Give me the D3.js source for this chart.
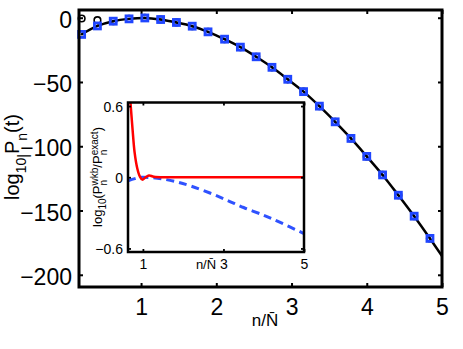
<!DOCTYPE html>
<html lang="en">
<head>
<meta charset="UTF-8">
<title>log10 Pn</title>
<script src="https://d3js.org/d3.v7.min.js"></script>
<style>
  body { margin: 0; background: #fff; }
  svg { display: block; font-family: "Liberation Sans", Arial, Helvetica, sans-serif; }
</style>
</head>
<body>
<svg width="463" height="349"></svg>
<script>
// main panel markers: n/N̄ for n = 4, 8, 12, ...
const nRatio = [0.21, 0.42, 0.63, 0.84, 1.05, 1.26, 1.47, 1.68, 1.89, 2.11, 2.32, 2.53,
                2.74, 2.95, 3.16, 3.37, 3.58, 3.79, 4.00, 4.21, 4.42, 4.63, 4.84];
// WKB values (blue squares)
const logWkb = [-13.0, -6.4, -2.7, -0.9, -0.2, -1.4, -3.7, -6.6, -11.0, -16.7, -22.9, -30.4,
                -38.6, -47.9, -57.5, -68.8, -81.0, -93.9, -107.9, -122.3, -138.1, -154.4, -171.7];
// exact values (black circles)
const logExact = [-0.6, -1.9, -2.7, -0.9, -0.2, -1.4, -3.7, -6.6, -11.0, -16.7, -22.9, -30.4,
                  -38.6, -47.9, -57.5, -68.8, -81.0, -93.9, -107.9, -122.3, -138.1, -154.4, -171.7];
// solid black curve
const curveX = [0.21, 0.42, 0.63, 0.84, 1.05, 1.26, 1.47, 1.68, 1.89, 2.11, 2.32, 2.53,
                2.74, 2.95, 3.16, 3.37, 3.58, 3.79, 4.00, 4.21, 4.42, 4.63, 4.84, 5.0];
const curveY = [-13.0, -6.4, -2.7, -0.9, -0.2, -1.4, -3.7, -6.6, -11.0, -16.7, -22.9, -30.4,
                -38.6, -47.9, -57.5, -68.8, -81.0, -93.9, -107.9, -122.3, -138.1, -154.4, -171.7, -185.4];
const xTicks = [1, 2, 3, 4, 5];
const yTicks = [0, -50, -100, -150, -200];

// inset: log10(P_wkb / P_exact)
const redX = [0.68, 0.744, 0.794, 0.861, 0.925, 0.985, 1.067, 1.149, 1.273, 1.6, 2, 3, 4, 5];
const redY = [0.68, 0.40, 0.21, 0.074, 0.006, -0.02, 0.0, 0.015, 0.004, 0, 0, 0, 0, 0];
const blueX = [0.63, 0.8, 0.95, 1.2, 1.5, 1.85, 2.2, 2.68, 3.1, 3.5, 4.0, 4.34, 5];
const blueY = [-0.03, -0.012, 0, -0.003, -0.015, -0.04, -0.075, -0.135, -0.195, -0.255, -0.32, -0.37, -0.475];
const insetXTicks = [1, 3, 5];
const insetYTicks = [-0.6, 0, 0.6];

const blue = "#1f45ff";
const svg = d3.select("svg");

// ---------- main axes ----------
const main = {left: 79, right: 442, top: 10, bottom: 287};
const x = d3.scaleLinear().domain([0.175, 5]).range([main.left, main.right]);
const y = d3.scaleLinear().domain([-209.5, 6]).range([main.bottom, main.top]);

const gx = svg.append("g")
  .attr("transform", `translate(0,${main.bottom})`)
  .call(d3.axisBottom(x).tickValues(xTicks).tickSize(-4).tickPadding(12).tickFormat(d3.format("d")));
const gxTop = svg.append("g")
  .attr("transform", `translate(0,${main.top})`)
  .call(d3.axisTop(x).tickValues(xTicks).tickSize(-4).tickFormat(""));
const gy = svg.append("g")
  .attr("transform", `translate(${main.left},0)`)
  .call(d3.axisLeft(y).tickValues(yTicks).tickSize(-4).tickPadding(7).tickFormat(d3.format("d")));
const gyRight = svg.append("g")
  .attr("transform", `translate(${main.right},0)`)
  .call(d3.axisRight(y).tickValues(yTicks).tickSize(-4).tickFormat(""));

[gx, gxTop, gy, gyRight].forEach(g => {
  g.select(".domain").remove();
  g.selectAll(".tick line").attr("stroke", "#000").attr("stroke-width", 2);
  g.selectAll("text").attr("font-size", 23).attr("fill", "#000").attr("font-family", null);
});
gy.selectAll("text").attr("dy", "0.42em");

const line = d3.line().x(d => x(d[0])).y(d => y(d[1])).curve(d3.curveCatmullRom);
svg.append("path")
  .datum(d3.zip(curveX, curveY))
  .attr("d", line)
  .attr("fill", "none")
  .attr("stroke", "#000")
  .attr("stroke-width", 2.5);

svg.append("g").selectAll("circle")
  .data(d3.zip(nRatio, logExact))
  .join("circle")
  .attr("cx", d => x(d[0]))
  .attr("cy", d => y(d[1]))
  .attr("r", 3.3)
  .attr("fill", "none")
  .attr("stroke", "#000")
  .attr("stroke-width", 1.6);

svg.append("g").selectAll("rect")
  .data(d3.zip(nRatio, logWkb))
  .join("rect")
  .attr("x", d => x(d[0]) - 3)
  .attr("y", d => y(d[1]) - 3)
  .attr("width", 6)
  .attr("height", 6)
  .attr("fill", "none")
  .attr("stroke", blue)
  .attr("stroke-width", 2.8);

svg.append("g").selectAll("circle")
  .data(d3.zip(nRatio, logWkb))
  .join("circle")
  .attr("cx", d => x(d[0]))
  .attr("cy", d => y(d[1]))
  .attr("r", 1.1)
  .attr("fill", "#000");

svg.append("rect")
  .attr("x", main.left).attr("y", main.top)
  .attr("width", main.right - main.left).attr("height", main.bottom - main.top)
  .attr("fill", "none").attr("stroke", "#000").attr("stroke-width", 3);

// axis labels
svg.append("text")
  .attr("x", 265).attr("y", 326)
  .attr("text-anchor", "middle")
  .attr("font-size", 17)
  .text("n/N\u0304");

const yl = svg.append("text")
  .attr("transform", "rotate(-90)")
  .attr("x", -157).attr("y", 19)
  .attr("text-anchor", "middle")
  .attr("font-size", 20);
yl.append("tspan").text("log");
yl.append("tspan").attr("font-size", 14).attr("dy", 7).text("10");
yl.append("tspan").attr("font-size", 14).attr("dy", 2).text("|");
yl.append("tspan").attr("dy", -9).text("P");
yl.append("tspan").attr("font-size", 14).attr("dy", 8).text("n");
yl.append("tspan").attr("dy", -8).text("(t)");

// ---------- inset ----------
const ins = {left: 128, right: 304, top: 102.5, bottom: 252};
const ix = d3.scaleLinear().domain([0.63, 5]).range([ins.left, ins.right]);
const iy = d3.scaleLinear().domain([-0.63, 0.63]).range([ins.bottom, ins.top]);

svg.append("rect")
  .attr("x", ins.left).attr("y", ins.top)
  .attr("width", ins.right - ins.left).attr("height", ins.bottom - ins.top)
  .attr("fill", "#fff");

svg.append("clipPath").attr("id", "insclip")
  .append("rect")
  .attr("x", ins.left).attr("y", ins.top)
  .attr("width", ins.right - ins.left).attr("height", ins.bottom - ins.top);

const ig = svg.append("g").attr("clip-path", "url(#insclip)");
const iline = d3.line().x(d => ix(d[0])).y(d => iy(d[1])).curve(d3.curveCatmullRom);

ig.append("path")
  .datum(d3.zip(blueX, blueY))
  .attr("d", iline)
  .attr("fill", "none")
  .attr("stroke", "#2f52ff")
  .attr("stroke-width", 3)
  .attr("stroke-dasharray", "8,5");

ig.append("path")
  .datum(d3.zip(redX, redY))
  .attr("d", iline)
  .attr("fill", "none")
  .attr("stroke", "#ff0000")
  .attr("stroke-width", 2.5);

const fmt = d3.format("~g");
const igx = svg.append("g")
  .attr("transform", `translate(0,${ins.bottom})`)
  .call(d3.axisBottom(ix).tickValues(insetXTicks).tickSize(-3).tickPadding(7).tickFormat(fmt));
const igxTop = svg.append("g")
  .attr("transform", `translate(0,${ins.top})`)
  .call(d3.axisTop(ix).tickValues(insetXTicks).tickSize(-3).tickFormat(""));
const igy = svg.append("g")
  .attr("transform", `translate(${ins.left},0)`)
  .call(d3.axisLeft(iy).tickValues(insetYTicks).tickSize(-3).tickPadding(5).tickFormat(fmt));
const igyRight = svg.append("g")
  .attr("transform", `translate(${ins.right},0)`)
  .call(d3.axisRight(iy).tickValues(insetYTicks).tickSize(-3).tickFormat(""));

[igx, igxTop, igy, igyRight].forEach(g => {
  g.select(".domain").remove();
  g.selectAll(".tick line").attr("stroke", "#000").attr("stroke-width", 1.8);
  g.selectAll("text").attr("font-size", 14).attr("fill", "#000").attr("font-family", null);
});
igy.selectAll("text").attr("dy", "0.36em");

svg.append("rect")
  .attr("x", ins.left).attr("y", ins.top)
  .attr("width", ins.right - ins.left).attr("height", ins.bottom - ins.top)
  .attr("fill", "none").attr("stroke", "#000").attr("stroke-width", 2.5);

svg.append("text")
  .attr("x", 206).attr("y", 269)
  .attr("text-anchor", "middle")
  .attr("font-size", 13)
  .text("n/N\u0304");

const il = svg.append("text")
  .attr("transform", "rotate(-90)")
  .attr("x", -177).attr("y", 102)
  .attr("text-anchor", "middle")
  .attr("font-size", 13);
il.append("tspan").text("log");
il.append("tspan").attr("font-size", 10).attr("dy", 4).text("10");
il.append("tspan").attr("dy", -4).text("(P");
il.append("tspan").attr("font-size", 10).attr("dy", 5).text("n");
il.append("tspan").attr("font-size", 10).attr("dx", -5.5).attr("dy", -9).text("wkb");
il.append("tspan").attr("dy", 4).text("/P");
il.append("tspan").attr("font-size", 10).attr("dy", 5).text("n");
il.append("tspan").attr("font-size", 10).attr("dx", -5.5).attr("dy", -9).text("exact");
il.append("tspan").attr("dy", 4).text(")");
</script>
</body>
</html>
